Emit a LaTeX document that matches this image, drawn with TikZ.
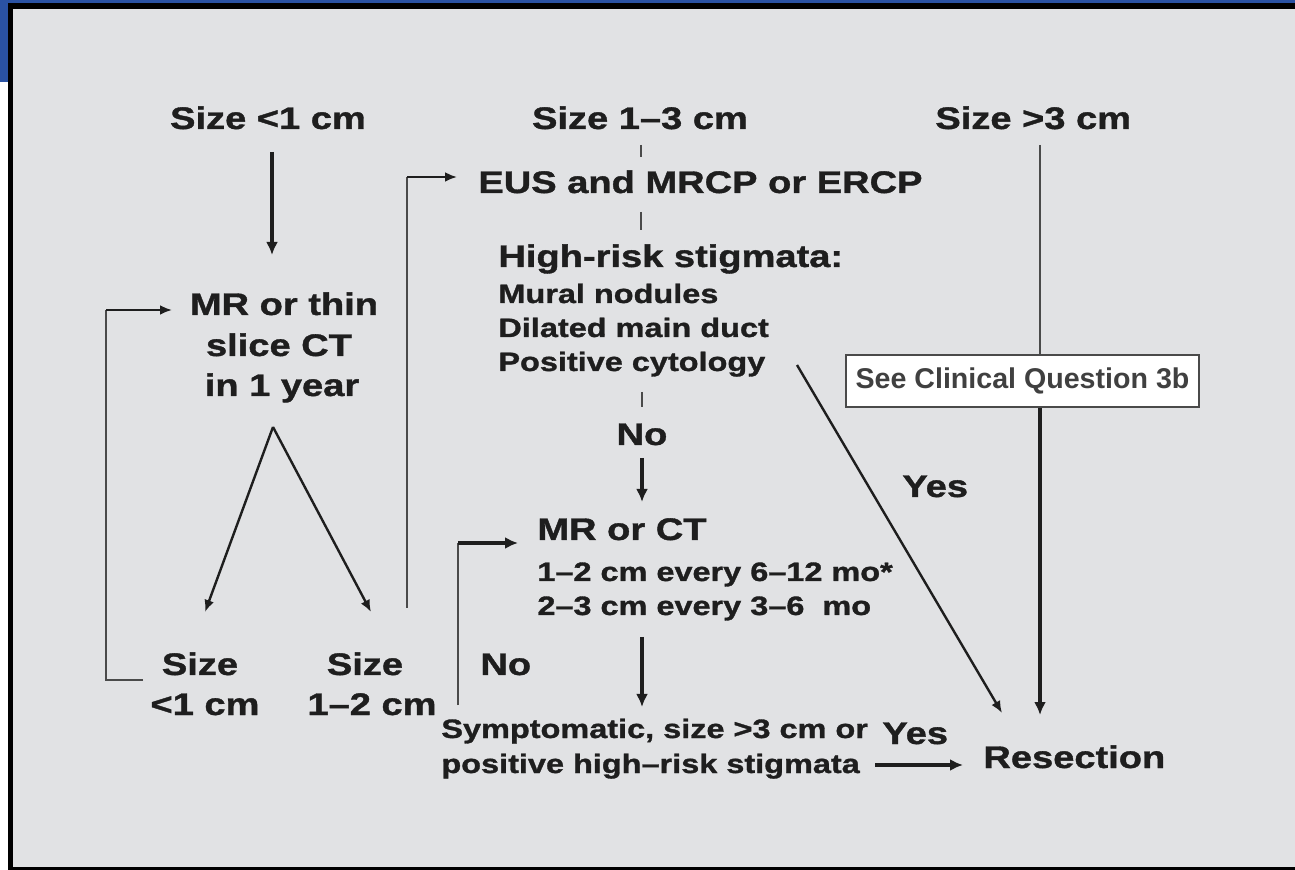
\documentclass[tikz,border=0pt]{standalone}
\usepackage{fontspec}
\setmainfont{Liberation Sans}
\newfontfamily\widesans[FakeStretch=1.22,FakeBold=1.2]{Liberation Sans}
\usetikzlibrary{arrows.meta}
\definecolor{panel}{HTML}{E1E2E4}
\definecolor{frameblue}{HTML}{2A52A3}
\definecolor{ink}{HTML}{1E1E1E}
\definecolor{rulegray}{HTML}{4A4A4A}
\begin{document}
\begin{tikzpicture}[x=0.5pt,y=-0.5pt,
  bigtxt/.style={font=\widesans\bfseries\fontsize{15.6}{18}\selectfont, text=ink, inner sep=0pt, anchor=base west},
  midtxt/.style={font=\widesans\bfseries\fontsize{13.3}{16}\selectfont, text=ink, inner sep=0pt, anchor=base west},
  boxtxt/.style={font=\bfseries\fontsize{14.3}{17}\selectfont, text=ink!85, draw=rulegray, fill=white, line width=1pt, inner sep=0pt, minimum width=176.5pt, minimum height=26pt},
  tickline/.style={draw=rulegray, line width=1pt},
  leadline/.style={draw=rulegray, line width=1.1pt},
  flowarrow/.style={draw=ink, line width=1.75pt, -{Latex[length=6.5pt,width=6pt]}},
  slimarrow/.style={draw=ink, line width=1.2pt, -{Latex[length=6pt,width=5pt]}}
]
\useasboundingbox (0,0) rectangle (1295,870);
% frame
\fill[white] (0,0) rectangle (1295,870);
\fill[frameblue] (0,0) rectangle (1295,3);
\fill[frameblue] (0,0) rectangle (8,82);
\fill[black] (8,3) rectangle (1295,9);
\fill[black] (8,3) rectangle (13,870);
\fill[black] (8,867) rectangle (1295,870);
\fill[panel] (13,9) rectangle (1295,867);

% top row
\node[bigtxt, anchor=base] (sA) at (268,129) {Size <1 cm};
\node[bigtxt, anchor=base] (sB) at (640,129) {Size 1–3 cm};
\node[bigtxt] (sC) at (935,129) {Size >3 cm};

% middle column
\node[bigtxt] (eus) at (478,193) {EUS and MRCP or ERCP};
\node[bigtxt] (hrs) at (498,267) {High-risk stigmata:};
\node[midtxt] (mural) at (498,303) {Mural nodules};
\node[midtxt] (dil) at (498,337) {Dilated main duct};
\node[midtxt] (pos) at (498,371) {Positive cytology};
\node[bigtxt, anchor=base] (noA) at (642,445) {No};
\node[bigtxt] (mrct) at (537,540) {MR or CT};
\node[midtxt] (fA) at (537,581) {1–2 cm every 6–12 mo*};
\node[midtxt] (fB) at (537,615) {2–3 cm every 3–6\ \ mo};
\node[midtxt] (symp) at (441,738) {Symptomatic, size >3 cm or};
\node[midtxt] (phr) at (441,773) {positive high–risk stigmata};
\node[bigtxt] (noB) at (480,675) {No};
\node[bigtxt] (yesB) at (882,744) {Yes};
\node[bigtxt] (res) at (983,768) {Resection};
\node[bigtxt] (yesA) at (902,497) {Yes};

% left column
\node[bigtxt, anchor=base] (mrA) at (284,315) {MR or thin};
\node[bigtxt, anchor=base] (mrB) at (279,356) {slice CT};
\node[bigtxt, anchor=base] (mrC) at (282,396) {in 1 year};
\node[bigtxt, anchor=base] (lsA) at (200,675) {Size};
\node[bigtxt, anchor=base] (lsB) at (205,715) {<1 cm};
\node[bigtxt, anchor=base] (rsA) at (365,675) {Size};
\node[bigtxt, anchor=base] (rsB) at (372,715) {1–2 cm};

% reference box
\node[boxtxt] (see) at (1022.5,381) {See Clinical Question 3b};

% connector end points
\coordinate (a1) at (272,152);  \coordinate (a2) at (272,255);
\coordinate (apex) at (273,427);
\coordinate (vl) at (205,612);  \coordinate (vr) at (371,612);
\coordinate (lb1) at (143,680); \coordinate (lb2) at (106,680);
\coordinate (lb3) at (106,310); \coordinate (lb4) at (172,310);
\coordinate (rb1) at (407,608); \coordinate (rb2) at (407,177);
\coordinate (rb3) at (457,177);
\coordinate (t1) at (641,145);  \coordinate (t2) at (641,157);
\coordinate (t3) at (641,212);  \coordinate (t4) at (641,230);
\coordinate (t5) at (642,392);  \coordinate (t6) at (642,407);
\coordinate (n1) at (642,458);  \coordinate (n2) at (642,502);
\coordinate (m1) at (642,637);  \coordinate (m2) at (642,707);
\coordinate (mb1) at (458,705); \coordinate (mb2) at (458,543);
\coordinate (mb3) at (518,543);
\coordinate (y1) at (875,765);  \coordinate (y2) at (963,765);
\coordinate (d1) at (797,365);  \coordinate (d2) at (1002,713);
\coordinate (c1) at (1040,145); \coordinate (c2) at (1040,715);

% connectors
\draw[flowarrow] (a1) -- (a2);
\draw[slimarrow] (apex) -- (vl);
\draw[slimarrow] (apex) -- (vr);
\draw[leadline] (lb1) -- (lb2) -- (lb3);
\draw[slimarrow] (lb3) -- (lb4);
\draw[leadline] (rb1) -- (rb2);
\draw[slimarrow] (rb2) -- (rb3);
\draw[tickline] (t1) -- (t2);
\draw[tickline] (t3) -- (t4);
\draw[tickline] (t5) -- (t6);
\draw[flowarrow] (n1) -- (n2);
\draw[flowarrow] (m1) -- (m2);
\draw[leadline] (mb1) -- (mb2);
\draw[flowarrow] (mb2) -- (mb3);
\draw[flowarrow] (y1) -- (y2);
\draw[slimarrow] (d1) -- (d2);
\draw[leadline] (c1) -- (c1 |- see.north);
\draw[flowarrow] (c1 |- see.south) -- (c2);
\end{tikzpicture}
\end{document}
